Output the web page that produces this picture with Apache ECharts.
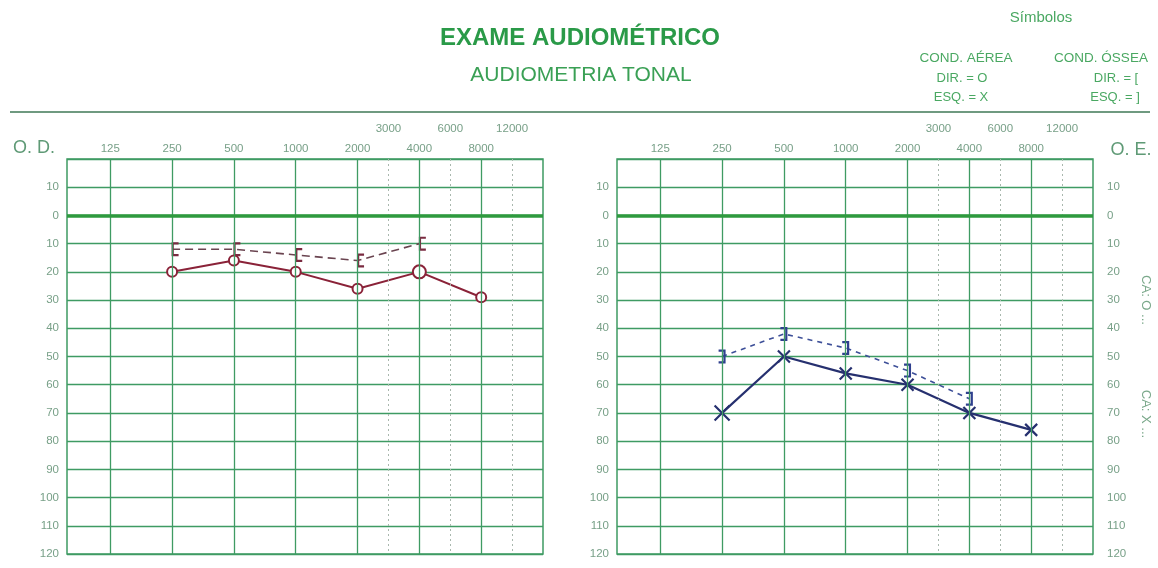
<!DOCTYPE html>
<html>
<head>
<meta charset="utf-8">
<script src="https://cdn.jsdelivr.net/npm/echarts@6/dist/echarts.min.js"></script>
<style>
  html, body { margin:0; padding:0; background:#fff; }
  #main { width:1158px; height:568px; }
</style>
</head>
<body>
<div id="main"></div>
<script>
// frequencies tested (Hz) and thresholds (dB)
const freqs = [250, 500, 1000, 2000, 4000, 8000]
const boneFreqs = [250, 500, 1000, 2000, 4000]
const odAir = [20, 16, 20, 26, 20, 29]      // O.D. air, "O"
const odBone = [12, 12, 14, 16, 10]         // O.D. bone, "["
const oeAir = [70, 50, 56, 60, 70, 76]      // O.E. air, "X"
const oeBone = [50, 42, 47, 55, 65]         // O.E. bone, "]"

// axis labels
const octLabels = ['125', '250', '500', '1000', '2000', '4000', '8000']
const octPos = [0, 1, 2, 3, 4, 5, 6]
const halfLabels = ['3000', '6000', '12000']
const halfPos = [4.5, 5.5, 6.5]

const green = '#3f9b63'
const txt = '#78a088'
const font = "'Liberation Sans', Arial, sans-serif"

const pos = f => Math.log2(f / 125)
const pts = (fs, vals) => fs.map((f, i) => [pos(f), vals[i]])

const grids = [
  {left: 67, top: 159, width: 476, height: 395},
  {left: 617, top: 159, width: 476, height: 395}
]

function xAxes(g) {
  const base = {
    gridIndex: g, type: 'value', position: 'top', min: -0.7, max: 7,
    axisLine: {show: false}, axisTick: {show: false}, splitLine: {show: false}
  }
  return [
    Object.assign({}, base, {
      axisLabel: {customValues: octPos, margin: 4, color: txt, fontSize: 11.5, fontFamily: font,
        formatter: v => octLabels[octPos.indexOf(v)] || ''}
    }),
    Object.assign({}, base, {
      offset: 20,
      axisLabel: {customValues: halfPos, margin: 4, color: txt, fontSize: 11.5, fontFamily: font,
        formatter: v => halfLabels[halfPos.indexOf(v)] || ''}
    })
  ]
}

function yAxis(g, side, grid) {
  return {
    gridIndex: g, type: 'value', inverse: true, min: -20, max: 120, interval: 10,
    position: side,
    axisLine: {show: false}, axisTick: {show: false},
    axisLabel: {color: txt, fontSize: 11.5, fontFamily: font, margin: side == 'left' ? 8 : 14,
      align: side == 'left' ? 'right' : 'left',
      formatter: v => v == -20 ? '' : String(Math.abs(v))},
    splitLine: {show: grid, lineStyle: {color: green, width: 1.3}}
  }
}

function gridLines(xi, yi) {
  return {
    type: 'line', xAxisIndex: xi, yAxisIndex: yi, data: [], silent: true,
    markLine: {
      silent: true, symbol: ['none', 'none'], label: {show: false},
      data: octPos.map(v => ({xAxis: v, lineStyle: {color: green, width: 1.3, type: 'solid'}}))
        .concat(halfPos.map(v => ({xAxis: v, lineStyle: {color: '#a9b8ae', width: 1, type: [2, 3]}})))
        .concat([{yAxis: 0, lineStyle: {color: '#2e9a3e', width: 3.5, type: 'solid'}}])
    }
  }
}

const xMark = 'path://M0,0L10,10M10,0L0,10'
const lBracket = 'path://M0,0L7,0L7,2.2L2.2,2.2L2.2,11.8L7,11.8L7,14L0,14Z'
const rBracket = 'path://M0,0L7,0L7,14L0,14L0,11.8L4.8,11.8L4.8,2.2L0,2.2Z'

function textEl(text, x, y, size, opts) {
  return Object.assign({
    type: 'text', x: x, y: y, silent: true,
    style: Object.assign({text: text, fill: green, font: size + 'px ' + font,
      align: 'center', verticalAlign: 'middle'}, (opts || {}).style || {})
  }, (opts || {}).el || {})
}

const chart = echarts.init(document.getElementById('main'))
chart.setOption({
  backgroundColor: '#fff',
  animation: false,
  grid: grids.map(g => Object.assign({show: true, borderColor: green, borderWidth: 1.5}, g)),
  xAxis: xAxes(0).concat(xAxes(1)),
  yAxis: [yAxis(0, 'left', true), yAxis(1, 'left', true), yAxis(1, 'right', false)],
  series: [
    gridLines(0, 0),
    gridLines(2, 1),
    {
      name: 'O.D. óssea', type: 'line', xAxisIndex: 0, yAxisIndex: 0, z: 3,
      data: pts(boneFreqs, odBone),
      lineStyle: {color: '#6a4450', width: 1.6, type: [8, 5]},
      symbol: lBracket, symbolSize: [7, 14], symbolOffset: [3, 0],
      itemStyle: {color: '#7a2a40'}
    },
    {
      name: 'O.D. aérea', type: 'line', xAxisIndex: 0, yAxisIndex: 0, z: 4,
      data: pts(freqs, odAir),
      lineStyle: {color: '#8a2238', width: 2},
      symbol: 'circle', symbolSize: (v, p) => p.dataIndex == 4 ? 13 : 10,
      itemStyle: {color: '#fff', borderColor: '#8a2238', borderWidth: 2}
    },
    {
      name: 'O.E. óssea', type: 'line', xAxisIndex: 2, yAxisIndex: 1, z: 3,
      data: pts(boneFreqs, oeBone),
      lineStyle: {color: '#3d4f98', width: 1.6, type: [5, 5]},
      symbol: rBracket, symbolSize: [7, 14],
      itemStyle: {color: '#2f3f8e'}
    },
    {
      name: 'O.E. aérea', type: 'line', xAxisIndex: 2, yAxisIndex: 1, z: 4,
      data: pts(freqs, oeAir),
      lineStyle: {color: '#26306f', width: 2.2},
      symbol: xMark, symbolSize: (v, p) => p.dataIndex == 0 ? 15 : 12,
      itemStyle: {color: 'rgba(0,0,0,0)', borderColor: '#26306f', borderWidth: 2.2}
    }
  ],
  graphic: [
    textEl('EXAME AUDIOMÉTRICO', 580, 38, 24, {style: {font: 'bold 24px ' + font, fill: '#2a9a48'}}),
    textEl('AUDIOMETRIA TONAL', 581, 75, 21, {style: {fill: '#3aa055'}}),
    textEl('Símbolos', 1041, 18, 15, {style: {fill: '#4aa862'}}),
    textEl('COND. AÉREA', 966, 58, 13.5, {style: {fill: '#4aa862'}}),
    textEl('DIR. = O', 962, 78, 13, {style: {fill: '#4aa862'}}),
    textEl('ESQ. = X', 961, 97, 13, {style: {fill: '#4aa862'}}),
    textEl('COND. ÓSSEA', 1101, 58, 13.5, {style: {fill: '#4aa862'}}),
    textEl('DIR. = [', 1116, 78, 13, {style: {fill: '#4aa862'}}),
    textEl('ESQ. = ]', 1115, 97, 13, {style: {fill: '#4aa862'}}),
    {
      type: 'line', silent: true,
      shape: {x1: 10, y1: 112, x2: 1150, y2: 112},
      style: {stroke: '#6f9a80', lineWidth: 2}
    },
    textEl('O. D.', 34, 148, 18, {style: {fill: '#5f9a76'}}),
    textEl('O. E.', 1131, 150, 18, {style: {fill: '#5f9a76'}}),
    textEl('CA: O ...', 1146, 300, 13, {style: {fill: '#7aa88a'}, el: {rotation: -Math.PI / 2}}),
    textEl('CA: X ...', 1146, 414, 13, {style: {fill: '#7aa88a'}, el: {rotation: -Math.PI / 2}})
  ]
})
</script>
</body>
</html>
